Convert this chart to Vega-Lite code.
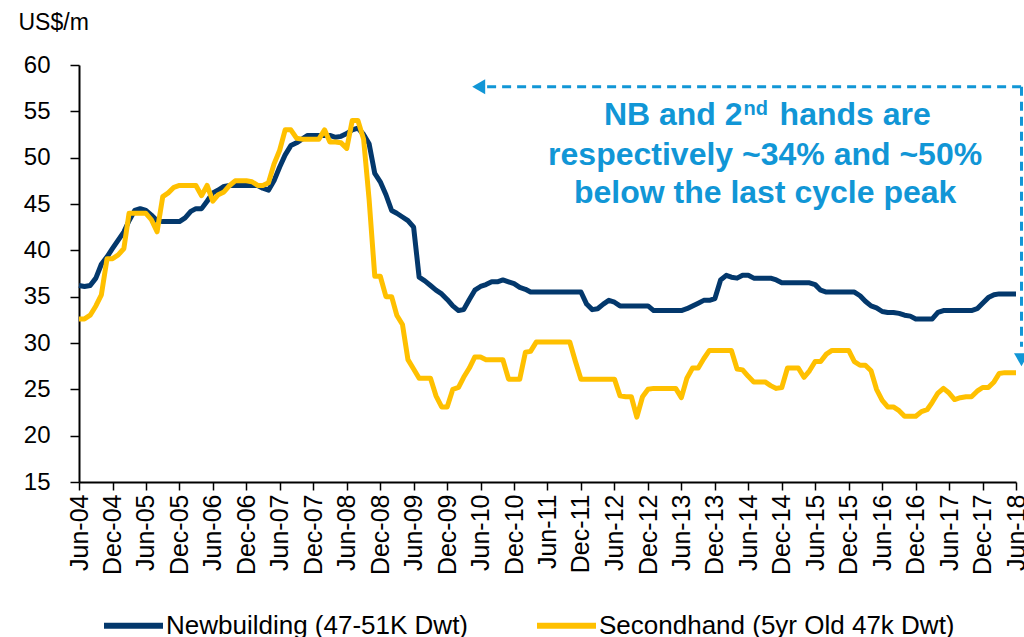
{
  "$schema": "https://vega.github.io/schema/vega-lite/v6.json",
  "width": 937,
  "height": 417,
  "autosize": {"type": "none"},
  "padding": {"left": 79, "top": 65, "right": 8, "bottom": 155},
  "background": "white",
  "config": {
    "view": {"stroke": null},
    "axis": {"grid": false, "labelOverlap": false, "domainColor": "#000000", "tickColor": "#000000", "labelColor": "#000000", "labelFont": "Liberation Sans", "titleFont": "Liberation Sans", "titleColor": "#000000"},
    "axisTemporal": {"labelOverlap": false}
  },
  "datasets": {
    "prices": [
      {"d": "2004/06/01", "nb": 36.2, "sh": 32.6},
      {"d": "2004/07/01", "nb": 36.1, "sh": 32.6},
      {"d": "2004/08/01", "nb": 36.2, "sh": 33.0},
      {"d": "2004/09/01", "nb": 37.0, "sh": 34.0},
      {"d": "2004/10/01", "nb": 38.5, "sh": 35.2},
      {"d": "2004/11/01", "nb": 39.3, "sh": 39.1},
      {"d": "2004/12/01", "nb": 40.2, "sh": 39.1},
      {"d": "2005/01/01", "nb": 41.1, "sh": 39.5},
      {"d": "2005/02/01", "nb": 42.0, "sh": 40.2},
      {"d": "2005/03/01", "nb": 43.2, "sh": 44.0},
      {"d": "2005/04/01", "nb": 44.3, "sh": 44.0},
      {"d": "2005/05/01", "nb": 44.5, "sh": 44.0},
      {"d": "2005/06/01", "nb": 44.3, "sh": 44.0},
      {"d": "2005/07/01", "nb": 43.8, "sh": 43.3},
      {"d": "2005/08/01", "nb": 43.2, "sh": 42.0},
      {"d": "2005/09/01", "nb": 43.1, "sh": 45.8},
      {"d": "2005/10/01", "nb": 43.1, "sh": 46.2},
      {"d": "2005/11/01", "nb": 43.1, "sh": 46.8},
      {"d": "2005/12/01", "nb": 43.1, "sh": 47.0},
      {"d": "2006/01/01", "nb": 43.5, "sh": 47.0},
      {"d": "2006/02/01", "nb": 44.2, "sh": 47.0},
      {"d": "2006/03/01", "nb": 44.5, "sh": 47.0},
      {"d": "2006/04/01", "nb": 44.5, "sh": 45.9},
      {"d": "2006/05/01", "nb": 45.3, "sh": 47.0},
      {"d": "2006/06/01", "nb": 46.2, "sh": 45.3},
      {"d": "2006/07/01", "nb": 46.5, "sh": 46.0},
      {"d": "2006/08/01", "nb": 46.9, "sh": 46.3},
      {"d": "2006/09/01", "nb": 47.0, "sh": 47.0},
      {"d": "2006/10/01", "nb": 47.0, "sh": 47.5},
      {"d": "2006/11/01", "nb": 47.0, "sh": 47.5},
      {"d": "2006/12/01", "nb": 47.0, "sh": 47.5},
      {"d": "2007/01/01", "nb": 47.0, "sh": 47.4},
      {"d": "2007/02/01", "nb": 47.0, "sh": 47.0},
      {"d": "2007/03/01", "nb": 46.7, "sh": 47.0},
      {"d": "2007/04/01", "nb": 46.5, "sh": 47.3},
      {"d": "2007/05/01", "nb": 47.5, "sh": 49.3},
      {"d": "2007/06/01", "nb": 49.0, "sh": 50.8},
      {"d": "2007/07/01", "nb": 50.3, "sh": 53.0},
      {"d": "2007/08/01", "nb": 51.3, "sh": 53.0},
      {"d": "2007/09/01", "nb": 51.6, "sh": 52.1},
      {"d": "2007/10/01", "nb": 52.0, "sh": 52.0},
      {"d": "2007/11/01", "nb": 52.4, "sh": 52.0},
      {"d": "2007/12/01", "nb": 52.4, "sh": 52.0},
      {"d": "2008/01/01", "nb": 52.4, "sh": 52.0},
      {"d": "2008/02/01", "nb": 52.4, "sh": 53.0},
      {"d": "2008/03/01", "nb": 52.4, "sh": 51.7},
      {"d": "2008/04/01", "nb": 52.2, "sh": 51.7},
      {"d": "2008/05/01", "nb": 52.3, "sh": 51.6},
      {"d": "2008/06/01", "nb": 52.6, "sh": 51.0},
      {"d": "2008/07/01", "nb": 53.0, "sh": 54.0},
      {"d": "2008/08/01", "nb": 53.2, "sh": 54.0},
      {"d": "2008/09/01", "nb": 52.5, "sh": 52.0},
      {"d": "2008/10/01", "nb": 51.5, "sh": 45.5},
      {"d": "2008/11/01", "nb": 48.3, "sh": 37.2},
      {"d": "2008/12/01", "nb": 47.4, "sh": 37.2},
      {"d": "2009/01/01", "nb": 46.0, "sh": 35.0},
      {"d": "2009/02/01", "nb": 44.3, "sh": 35.0},
      {"d": "2009/03/01", "nb": 44.0, "sh": 33.0},
      {"d": "2009/04/01", "nb": 43.6, "sh": 32.0},
      {"d": "2009/05/01", "nb": 43.2, "sh": 28.2},
      {"d": "2009/06/01", "nb": 42.5, "sh": 27.2},
      {"d": "2009/07/01", "nb": 37.1, "sh": 26.2},
      {"d": "2009/08/01", "nb": 36.7, "sh": 26.2},
      {"d": "2009/09/01", "nb": 36.2, "sh": 26.2},
      {"d": "2009/10/01", "nb": 35.7, "sh": 24.3},
      {"d": "2009/11/01", "nb": 35.3, "sh": 23.1},
      {"d": "2009/12/01", "nb": 34.7, "sh": 23.1},
      {"d": "2010/01/01", "nb": 34.0, "sh": 25.0},
      {"d": "2010/02/01", "nb": 33.5, "sh": 25.2},
      {"d": "2010/03/01", "nb": 33.6, "sh": 26.3},
      {"d": "2010/04/01", "nb": 34.7, "sh": 27.3},
      {"d": "2010/05/01", "nb": 35.7, "sh": 28.5},
      {"d": "2010/06/01", "nb": 36.1, "sh": 28.5},
      {"d": "2010/07/01", "nb": 36.3, "sh": 28.2},
      {"d": "2010/08/01", "nb": 36.6, "sh": 28.2},
      {"d": "2010/09/01", "nb": 36.6, "sh": 28.2},
      {"d": "2010/10/01", "nb": 36.8, "sh": 28.2},
      {"d": "2010/11/01", "nb": 36.6, "sh": 26.1},
      {"d": "2010/12/01", "nb": 36.4, "sh": 26.1},
      {"d": "2011/01/01", "nb": 36.0, "sh": 26.1},
      {"d": "2011/02/01", "nb": 35.8, "sh": 29.0},
      {"d": "2011/03/01", "nb": 35.5, "sh": 29.1},
      {"d": "2011/04/01", "nb": 35.5, "sh": 30.1},
      {"d": "2011/05/01", "nb": 35.5, "sh": 30.1},
      {"d": "2011/06/01", "nb": 35.5, "sh": 30.1},
      {"d": "2011/07/01", "nb": 35.5, "sh": 30.1},
      {"d": "2011/08/01", "nb": 35.5, "sh": 30.1},
      {"d": "2011/09/01", "nb": 35.5, "sh": 30.1},
      {"d": "2011/10/01", "nb": 35.5, "sh": 30.1},
      {"d": "2011/11/01", "nb": 35.5, "sh": 28.0},
      {"d": "2011/12/01", "nb": 35.5, "sh": 26.1},
      {"d": "2012/01/01", "nb": 34.2, "sh": 26.1},
      {"d": "2012/02/01", "nb": 33.6, "sh": 26.1},
      {"d": "2012/03/01", "nb": 33.7, "sh": 26.1},
      {"d": "2012/04/01", "nb": 34.2, "sh": 26.1},
      {"d": "2012/05/01", "nb": 34.6, "sh": 26.1},
      {"d": "2012/06/01", "nb": 34.4, "sh": 26.1},
      {"d": "2012/07/01", "nb": 34.0, "sh": 24.3},
      {"d": "2012/08/01", "nb": 34.0, "sh": 24.2},
      {"d": "2012/09/01", "nb": 34.0, "sh": 24.2},
      {"d": "2012/10/01", "nb": 34.0, "sh": 22.0},
      {"d": "2012/11/01", "nb": 34.0, "sh": 24.2},
      {"d": "2012/12/01", "nb": 34.0, "sh": 25.0},
      {"d": "2013/01/01", "nb": 33.5, "sh": 25.1},
      {"d": "2013/02/01", "nb": 33.5, "sh": 25.1},
      {"d": "2013/03/01", "nb": 33.5, "sh": 25.1},
      {"d": "2013/04/01", "nb": 33.5, "sh": 25.1},
      {"d": "2013/05/01", "nb": 33.5, "sh": 25.1},
      {"d": "2013/06/01", "nb": 33.5, "sh": 24.1},
      {"d": "2013/07/01", "nb": 33.7, "sh": 26.2},
      {"d": "2013/08/01", "nb": 34.0, "sh": 27.3},
      {"d": "2013/09/01", "nb": 34.3, "sh": 27.3},
      {"d": "2013/10/01", "nb": 34.6, "sh": 28.3},
      {"d": "2013/11/01", "nb": 34.6, "sh": 29.2},
      {"d": "2013/12/01", "nb": 34.8, "sh": 29.2},
      {"d": "2014/01/01", "nb": 36.8, "sh": 29.2},
      {"d": "2014/02/01", "nb": 37.3, "sh": 29.2},
      {"d": "2014/03/01", "nb": 37.1, "sh": 29.2},
      {"d": "2014/04/01", "nb": 37.0, "sh": 27.2},
      {"d": "2014/05/01", "nb": 37.3, "sh": 27.1},
      {"d": "2014/06/01", "nb": 37.3, "sh": 26.4},
      {"d": "2014/07/01", "nb": 37.0, "sh": 25.8},
      {"d": "2014/08/01", "nb": 37.0, "sh": 25.8},
      {"d": "2014/09/01", "nb": 37.0, "sh": 25.8},
      {"d": "2014/10/01", "nb": 37.0, "sh": 25.4},
      {"d": "2014/11/01", "nb": 36.8, "sh": 25.1},
      {"d": "2014/12/01", "nb": 36.5, "sh": 25.2},
      {"d": "2015/01/01", "nb": 36.5, "sh": 27.3},
      {"d": "2015/02/01", "nb": 36.5, "sh": 27.3},
      {"d": "2015/03/01", "nb": 36.5, "sh": 27.3},
      {"d": "2015/04/01", "nb": 36.5, "sh": 26.3},
      {"d": "2015/05/01", "nb": 36.5, "sh": 27.0},
      {"d": "2015/06/01", "nb": 36.3, "sh": 28.0},
      {"d": "2015/07/01", "nb": 35.7, "sh": 28.0},
      {"d": "2015/08/01", "nb": 35.5, "sh": 28.8},
      {"d": "2015/09/01", "nb": 35.5, "sh": 29.2},
      {"d": "2015/10/01", "nb": 35.5, "sh": 29.2},
      {"d": "2015/11/01", "nb": 35.5, "sh": 29.2},
      {"d": "2015/12/01", "nb": 35.5, "sh": 29.2},
      {"d": "2016/01/01", "nb": 35.5, "sh": 28.0},
      {"d": "2016/02/01", "nb": 35.1, "sh": 27.6},
      {"d": "2016/03/01", "nb": 34.5, "sh": 27.6},
      {"d": "2016/04/01", "nb": 34.0, "sh": 27.0},
      {"d": "2016/05/01", "nb": 33.8, "sh": 25.0},
      {"d": "2016/06/01", "nb": 33.4, "sh": 23.8},
      {"d": "2016/07/01", "nb": 33.3, "sh": 23.1},
      {"d": "2016/08/01", "nb": 33.3, "sh": 23.1},
      {"d": "2016/09/01", "nb": 33.2, "sh": 22.7},
      {"d": "2016/10/01", "nb": 33.0, "sh": 22.1},
      {"d": "2016/11/01", "nb": 32.9, "sh": 22.1},
      {"d": "2016/12/01", "nb": 32.6, "sh": 22.1},
      {"d": "2017/01/01", "nb": 32.6, "sh": 22.6},
      {"d": "2017/02/01", "nb": 32.6, "sh": 22.8},
      {"d": "2017/03/01", "nb": 32.6, "sh": 23.6},
      {"d": "2017/04/01", "nb": 33.3, "sh": 24.6},
      {"d": "2017/05/01", "nb": 33.5, "sh": 25.1},
      {"d": "2017/06/01", "nb": 33.5, "sh": 24.6},
      {"d": "2017/07/01", "nb": 33.5, "sh": 23.9},
      {"d": "2017/08/01", "nb": 33.5, "sh": 24.1},
      {"d": "2017/09/01", "nb": 33.5, "sh": 24.2},
      {"d": "2017/10/01", "nb": 33.5, "sh": 24.2},
      {"d": "2017/11/01", "nb": 33.7, "sh": 24.8},
      {"d": "2017/12/01", "nb": 34.3, "sh": 25.2},
      {"d": "2018/01/01", "nb": 34.9, "sh": 25.2},
      {"d": "2018/02/01", "nb": 35.2, "sh": 25.8},
      {"d": "2018/03/01", "nb": 35.3, "sh": 26.7},
      {"d": "2018/04/01", "nb": 35.3, "sh": 26.8},
      {"d": "2018/05/01", "nb": 35.3, "sh": 26.8},
      {"d": "2018/06/01", "nb": 35.3, "sh": 26.8}
    ]
  },
  "layer": [
    {
      "data": {"name": "prices"},
      "transform": [{"fold": ["nb", "sh"], "as": ["series", "value"]}],
      "mark": {"type": "line", "strokeWidth": 5, "strokeJoin": "round", "clip": false},
      "encoding": {
        "x": {
          "field": "d",
          "type": "temporal",
          "scale": {"domain": [{"year": 2004, "month": 6, "date": 1}, {"year": 2018, "month": 6, "date": 1}], "nice": false},
          "axis": {
            "title": null,
            "format": "%b-%y",
            "tickCount": 60,
            "values": [
              {"year": 2004, "month": 6, "date": 1}, {"year": 2004, "month": 12, "date": 1},
              {"year": 2005, "month": 6, "date": 1}, {"year": 2005, "month": 12, "date": 1},
              {"year": 2006, "month": 6, "date": 1}, {"year": 2006, "month": 12, "date": 1},
              {"year": 2007, "month": 6, "date": 1}, {"year": 2007, "month": 12, "date": 1},
              {"year": 2008, "month": 6, "date": 1}, {"year": 2008, "month": 12, "date": 1},
              {"year": 2009, "month": 6, "date": 1}, {"year": 2009, "month": 12, "date": 1},
              {"year": 2010, "month": 6, "date": 1}, {"year": 2010, "month": 12, "date": 1},
              {"year": 2011, "month": 6, "date": 1}, {"year": 2011, "month": 12, "date": 1},
              {"year": 2012, "month": 6, "date": 1}, {"year": 2012, "month": 12, "date": 1},
              {"year": 2013, "month": 6, "date": 1}, {"year": 2013, "month": 12, "date": 1},
              {"year": 2014, "month": 6, "date": 1}, {"year": 2014, "month": 12, "date": 1},
              {"year": 2015, "month": 6, "date": 1}, {"year": 2015, "month": 12, "date": 1},
              {"year": 2016, "month": 6, "date": 1}, {"year": 2016, "month": 12, "date": 1},
              {"year": 2017, "month": 6, "date": 1}, {"year": 2017, "month": 12, "date": 1},
              {"year": 2018, "month": 6, "date": 1}
            ],
            "labelAngle": 270,
            "labelAlign": "right",
            "labelBaseline": "middle",
            "labelFontSize": 25,
            "labelPadding": 4,
            "labelOverlap": false,
            "labelFlush": false,
            "tickSize": 8,
            "tickWidth": 1.5,
            "domainWidth": 2
          }
        },
        "y": {
          "field": "value",
          "type": "quantitative",
          "scale": {"domain": [15, 60], "nice": false, "zero": false},
          "axis": {
            "title": "US$/m",
            "titleAngle": 0,
            "titleAlign": "left",
            "titleBaseline": "middle",
            "titleX": -61,
            "titleY": -43,
            "titleFontSize": 23,
            "titleFontWeight": "normal",
            "tickCount": 20,
            "values": [15, 20, 25, 30, 35, 40, 45, 50, 55, 60],
            "labelFontSize": 24,
            "labelPadding": 20,
            "tickSize": 9,
            "tickWidth": 1.5,
            "domainWidth": 2
          }
        },
        "color": {
          "field": "series",
          "type": "nominal",
          "scale": {"domain": ["nb", "sh"], "range": ["#03386c", "#ffc000"]},
          "legend": {
            "title": null,
            "orient": "none",
            "direction": "horizontal",
            "legendX": 22,
            "legendY": 528,
            "symbolType": "stroke",
            "symbolSize": 3481,
            "symbolStrokeWidth": 6,
            "labelFontSize": 26,
            "labelFont": "Liberation Sans",
            "labelColor": "#000000",
            "labelOffset": 0,
            "labelLimit": 600,
            "columnPadding": 56,
            "padding": 0,
            "labelExpr": "datum.label == 'nb' ? 'Newbuilding (47-51K Dwt)' : 'Secondhand (5yr Old 47k Dwt)'"
          }
        }
      }
    },
    {
      "data": {"values": [{}]},
      "mark": {"type": "rule", "strokeDash": [9, 6], "strokeWidth": 3, "color": "#1196d6"},
      "encoding": {
        "x": {"datum": {"year": 2010, "month": 7, "date": 7}, "type": "temporal"},
        "x2": {"datum": {"year": 2018, "month": 7, "date": 1}},
        "y": {"datum": 57.66, "type": "quantitative"}
      }
    },
    {
      "data": {"values": [{}]},
      "mark": {"type": "rule", "strokeDash": [9, 6], "strokeWidth": 3, "color": "#1196d6"},
      "encoding": {
        "x": {"datum": {"year": 2018, "month": 7, "date": 1}, "type": "temporal"},
        "y": {"datum": 57.66, "type": "quantitative"},
        "y2": {"datum": 29.6}
      }
    },
    {
      "data": {"values": [{}]},
      "mark": {"type": "point", "shape": "triangle-left", "size": 225, "filled": true, "opacity": 1, "color": "#1196d6", "strokeWidth": 0},
      "encoding": {
        "x": {"datum": {"year": 2010, "month": 5, "date": 22}, "type": "temporal"},
        "y": {"datum": 57.66, "type": "quantitative"}
      }
    },
    {
      "data": {"values": [{}]},
      "mark": {"type": "point", "shape": "triangle-down", "size": 225, "filled": true, "opacity": 1, "color": "#1196d6", "strokeWidth": 0},
      "encoding": {
        "x": {"datum": {"year": 2018, "month": 7, "date": 1}, "type": "temporal"},
        "y": {"datum": 28.2, "type": "quantitative"}
      }
    },
    {
      "data": {"values": [{}]},
      "mark": {"type": "text", "text": "NB and 2", "font": "Liberation Sans", "fontWeight": "bold", "fontSize": 32, "color": "#1196d6", "align": "right", "baseline": "alphabetic"},
      "encoding": {
        "x": {"datum": {"year": 2014, "month": 5, "date": 1}, "type": "temporal"},
        "y": {"datum": 53.53, "type": "quantitative"}
      }
    },
    {
      "data": {"values": [{}]},
      "mark": {"type": "text", "text": "nd", "font": "Liberation Sans", "fontWeight": "bold", "fontSize": 20, "color": "#1196d6", "align": "left", "baseline": "alphabetic", "dx": 1, "dy": -10},
      "encoding": {
        "x": {"datum": {"year": 2014, "month": 5, "date": 1}, "type": "temporal"},
        "y": {"datum": 53.53, "type": "quantitative"}
      }
    },
    {
      "data": {"values": [{}]},
      "mark": {"type": "text", "text": "hands are", "font": "Liberation Sans", "fontWeight": "bold", "fontSize": 32, "color": "#1196d6", "align": "left", "baseline": "alphabetic", "dx": 37},
      "encoding": {
        "x": {"datum": {"year": 2014, "month": 5, "date": 1}, "type": "temporal"},
        "y": {"datum": 53.53, "type": "quantitative"}
      }
    },
    {
      "data": {"values": [{}]},
      "mark": {"type": "text", "text": "respectively ~34% and ~50%", "font": "Liberation Sans", "fontWeight": "bold", "fontSize": 32, "color": "#1196d6", "align": "center", "baseline": "alphabetic"},
      "encoding": {
        "x": {"datum": {"year": 2014, "month": 9, "date": 1}, "type": "temporal"},
        "y": {"datum": 49.21, "type": "quantitative"}
      }
    },
    {
      "data": {"values": [{}]},
      "mark": {"type": "text", "text": "below the last cycle peak", "font": "Liberation Sans", "fontWeight": "bold", "fontSize": 32, "color": "#1196d6", "align": "center", "baseline": "alphabetic"},
      "encoding": {
        "x": {"datum": {"year": 2014, "month": 9, "date": 1}, "type": "temporal"},
        "y": {"datum": 45.11, "type": "quantitative"}
      }
    }
  ]
}
